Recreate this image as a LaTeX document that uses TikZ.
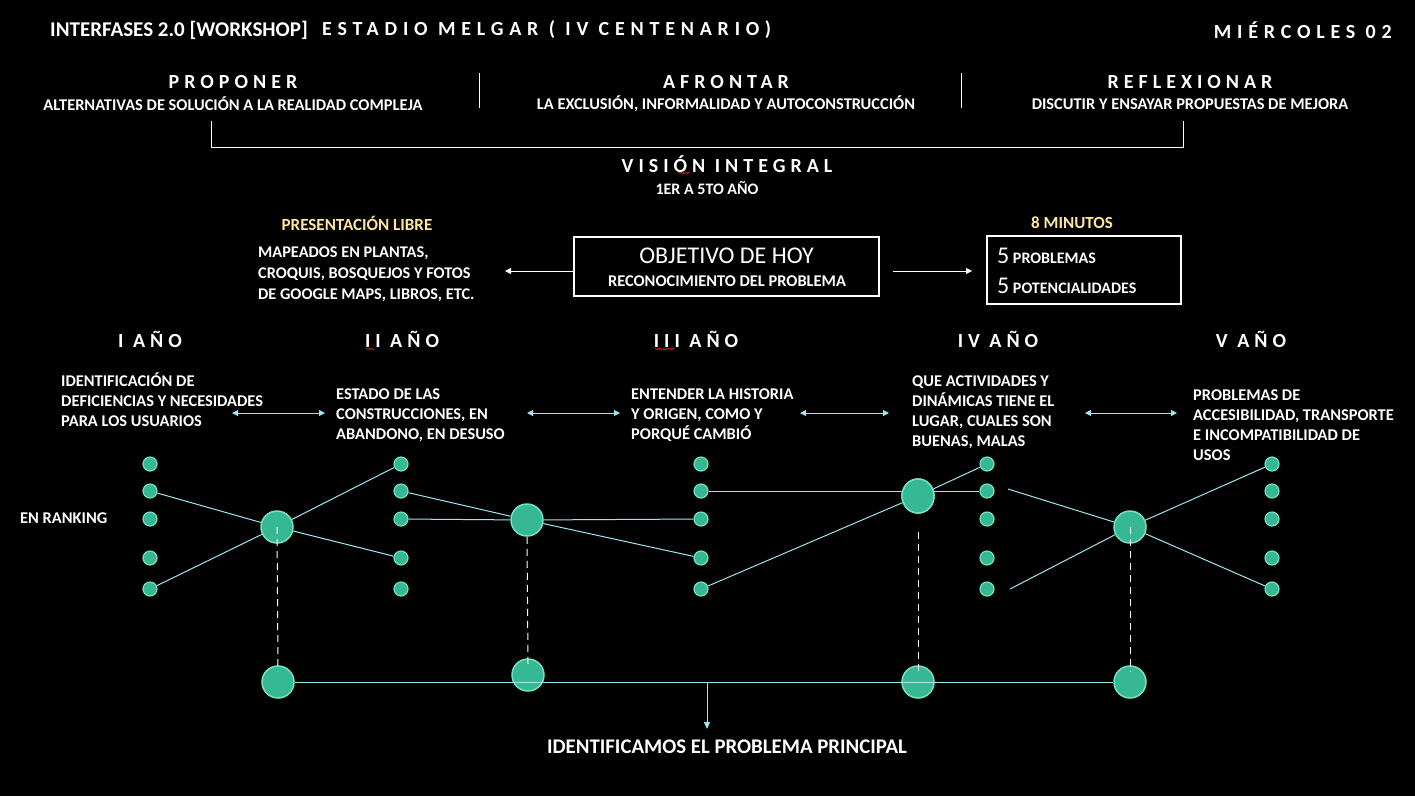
\documentclass[tikz,border=0pt]{standalone}
\usepackage{fontspec}
\setmainfont{Carlito}
\newfontfamily\spacedfont[LetterSpace=25]{Carlito}
\newfontfamily\widefont[LetterSpace=29]{Carlito}
\usetikzlibrary{arrows.meta,decorations.pathmorphing,shapes.geometric}
\definecolor{mint}{HTML}{35B893}
\definecolor{rim}{HTML}{72E2C4}
\definecolor{cyanl}{HTML}{9CE6F0}
\definecolor{yell}{HTML}{FFE79A}
\definecolor{squig}{HTML}{D02020}
\tikzset{
  dot/.style={circle,minimum size=14pt,inner sep=0pt,fill=mint,draw=rim,line width=1.2pt},
  big/.style={circle,minimum size=32pt,inner sep=0pt,fill=mint,draw=rim,line width=1.5pt},
  link/.style={draw=cyanl,line width=1pt},
  vdash/.style={draw=white,line width=1pt,dash pattern=on 7pt off 5pt},
  warrow/.style={draw=white,line width=1pt,-{Triangle[length=6pt,width=6pt]}},
  carrow/.style={draw=cyanl,line width=1pt,{Triangle[length=6pt,width=6pt]}-{Triangle[length=6pt,width=6pt]}},
  darrow/.style={draw=cyanl,line width=1pt,-{Triangle[length=7pt,width=6pt]}},
  txt/.style={text=white,inner sep=0pt,font=\bfseries\fontsize{16.4}{20}\selectfont},
  desc/.style={txt,anchor=west,align=left},
  head/.style={text=white,inner sep=0pt,font=\spacedfont\bfseries\fontsize{20}{22}\selectfont},
  tophead/.style={text=white,inner sep=0pt,font=\widefont\bfseries\fontsize{20}{22}\selectfont},
  yr/.style={head},
  ylw/.style={txt,text=yell,font=\bfseries\fontsize{17}{19}\selectfont},
  frame/.style={draw=white,line width=1.2pt},
  sq/.style={draw=squig,line width=0.6pt,decorate,decoration={snake,amplitude=0.8pt,segment length=2.5pt}}
}
\begin{document}
\begin{tikzpicture}[x=1pt,y=-1pt]
\fill[black] (0,0) rectangle (1415,796);
\useasboundingbox (0,0) rectangle (1415,796);

% header
\node[txt,anchor=west,font=\bfseries\fontsize{21}{22}\selectfont] (title) at (50,30) {INTERFASES 2.0 [WORKSHOP]};
\node[tophead,anchor=west] (estadio) at (322,30) {ESTADIO MELGAR ( IV CENTENARIO)};
\node[tophead,anchor=east] (dia) at (1392,30) {MIÉRCOLES 02};

\node[head] (prop) at (233,82) {PROPONER};
\node[txt] (propt) at (233,104) {ALTERNATIVAS DE SOLUCIÓN A LA REALIDAD COMPLEJA};
\node[head] (afr) at (726,82) {AFRONTAR};
\node[txt] (afrt) at (726,104) {LA EXCLUSIÓN, INFORMALIDAD Y AUTOCONSTRUCCIÓN};
\node[head] (refl) at (1190,82) {REFLEXIONAR};
\node[txt] (reflt) at (1190,104) {DISCUTIR Y ENSAYAR PROPUESTAS DE MEJORA};

\draw[white,line width=0.8pt] (479,73) -- (479,108);
\draw[white,line width=0.8pt] (961,73) -- (961,108);

\coordinate (brL) at (211,121);
\coordinate (brR) at (1183,121);
\draw[white,line width=1pt] (brL) -- (211,147) -- (1183,147) -- (brR);

\node[head] (vis) at (727,164) {VISIÓN INTEGRAL};
\draw[sq] (678,173) -- (690,173);
\node[txt,font=\bfseries\fontsize{16}{18}\selectfont] (anio) at (707,188) {1ER A 5TO AÑO};

% objective row
\node[ylw] (libre) at (357,223) {PRESENTACIÓN LIBRE};
\node[ylw] (min) at (1072,223) {8 MINUTOS};
\node[desc,font=\bfseries\fontsize{16.3}{21}\selectfont] (mapeo) at (258,274) {MAPEADOS EN PLANTAS,\\CROQUIS, BOSQUEJOS Y FOTOS\\DE GOOGLE MAPS, LIBROS, ETC.};

\node[frame,minimum width=305pt,minimum height=59pt,inner sep=0pt] (obj) at (726.5,266.5) {};
\node[text=white,inner sep=0pt,font=\fontsize{24}{26}\selectfont] (objt) at (726.5,256) {OBJETIVO DE HOY};
\node[txt] (objs) at (727,281) {RECONOCIMIENTO DEL PROBLEMA};

\node[frame,minimum width=194pt,minimum height=68pt,inner sep=0pt] (cinco) at (1084,270) {};
\node[text=white,inner sep=0pt,anchor=west] (p5) at (997,256) {{\fontsize{24}{26}\selectfont 5}{\bfseries\fontsize{16}{18}\selectfont\ PROBLEMAS}};
\node[text=white,inner sep=0pt,anchor=west] (q5) at (997,286) {{\fontsize{24}{26}\selectfont 5}{\bfseries\fontsize{16}{18}\selectfont\ POTENCIALIDADES}};

\coordinate (aL) at (505,271);
\coordinate (aR0) at (893,271);
\coordinate (aR1) at (972,271);
\draw[warrow] ([yshift=-4.5pt]obj.west) -- (aL);
\draw[warrow] (aR0) -- (aR1);

% years
\node[yr] (y1) at (150,339) {I AÑO};
\node[yr] (y2) at (402,339) {II AÑO};
\node[yr] (y3) at (696,339) {III AÑO};
\node[yr] (y4) at (998,339) {IV AÑO};
\node[yr] (y5) at (1251,339) {V AÑO};
\draw[sq] (366,349) -- (374,349);
\draw[sq] (655,349) -- (675,349);

\node[desc] (t1) at (61,400) {IDENTIFICACIÓN DE\\DEFICIENCIAS Y NECESIDADES\\PARA LOS USUARIOS};
\node[desc] (t2) at (336,415) {ESTADO DE LAS\\CONSTRUCCIONES, EN\\ABANDONO, EN DESUSO};
\node[desc] (t3) at (631,415) {ENTENDER LA HISTORIA\\Y ORIGEN, COMO Y\\PORQUÉ CAMBIÓ};
\node[desc] (t4) at (912,412) {QUE ACTIVIDADES Y\\DINÁMICAS TIENE EL\\LUGAR, CUALES SON\\BUENAS, MALAS};
\node[desc] (t5) at (1193,425) {PROBLEMAS DE\\ACCESIBILIDAD, TRANSPORTE\\E INCOMPATIBILIDAD DE\\USOS};

\coordinate (p1a) at (232,413); \coordinate (p1b) at (325,413);
\coordinate (p2a) at (527,413); \coordinate (p2b) at (620,413);
\coordinate (p3a) at (800,413); \coordinate (p3b) at (889,413);
\coordinate (p4a) at (1085,413); \coordinate (p4b) at (1177,413);
\draw[carrow] (p1a) -- (p1b);
\draw[carrow] (p2a) -- (p2b);
\draw[carrow] (p3a) -- (p3b);
\draw[carrow] (p4a) -- (p4b);

\node[txt,anchor=west] (rank) at (20,518) {EN RANKING};

% dot columns
\foreach \c/\x in {1/150,2/401,3/701,4/987,5/1272}{
  \foreach \r/\y in {1/464,2/491,3/519,4/558,5/589}{
    \node[dot] (d\c\r) at (\x,\y) {};
  }
}
% big circles
\node[big] (b1) at (277,527) {};
\node[big] (b2) at (527,520) {};
\node[big,ellipse,minimum width=32pt,minimum height=34pt] (b3) at (918,496) {};
\node[big] (b4) at (1130,527) {};

\coordinate (f1) at (1008,489);
\coordinate (f2) at (1010,589);

\draw[link] (d12) -- (b1); \draw[link] (b1) -- (d24);
\draw[link] (d15) -- (b1); \draw[link] (b1) -- (d21);
\draw[link] (d22) -- (b2); \draw[link] (b2) -- (d34);
\draw[link] (d23) -- (b2); \draw[link] (b2) -- (d33);
\draw[link] (d32) -- (d42);
\draw[link] (d35) -- (b3); \draw[link] (b3) -- (d41);
\draw[link] (f1) -- (b4); \draw[link] (b4) -- (d55);
\draw[link] (f2) -- (b4); \draw[link] (b4) -- (d51);
\node[big,ellipse,minimum width=32pt,minimum height=34pt] (b3top) at (918,496) {};

% bottom circles
\node[big] (c1) at (278,682) {};
\node[big] (c2) at (528,675) {};
\node[big] (c3) at (918,682) {};
\node[big] (c4) at (1130,682) {};

\draw[vdash] (b1.center) -- ([yshift=-6pt]c1.north);
\draw[vdash] (b2.south) -- ([yshift=-6pt]c2.north);
\draw[vdash] ([yshift=-18pt]b3.south) -- ([yshift=-6pt]c3.north);
\draw[vdash] (b4.center) -- ([yshift=-6pt]c4.north);

\draw[link] (c1.east) -- (c4.west);
\coordinate (m) at (707,682);
\coordinate (mt) at (707,729);
\draw[darrow] (m) -- (mt);

\node[txt,font=\bfseries\fontsize{20.8}{22}\selectfont] (final) at (727,747) {IDENTIFICAMOS EL PROBLEMA PRINCIPAL};
\end{tikzpicture}
\end{document}
